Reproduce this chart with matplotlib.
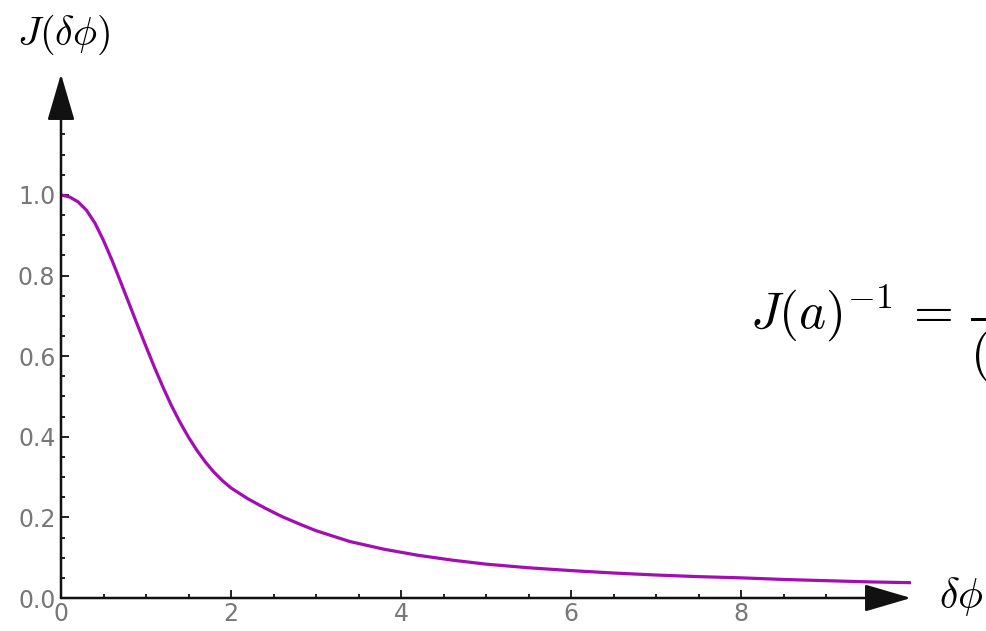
import numpy as np
import matplotlib
matplotlib.use("Agg")
import matplotlib.pyplot as plt
from matplotlib.ticker import FixedLocator

plt.rcParams['mathtext.fontset'] = 'cm'

# valores
dphi = [0.0, 0.1, 0.2, 0.3, 0.4, 0.5, 0.6, 0.7, 0.8, 0.9, 1.0, 1.1, 1.2, 1.3, 1.4,
        1.5, 1.6, 1.7, 1.8, 1.9, 2.0, 2.2, 2.4, 2.6, 2.8, 3.0, 3.4, 3.8, 4.2, 4.6,
        5.0, 5.5, 6.0, 6.5, 7.0, 7.5, 8.0, 8.5, 9.0, 9.5, 10.0]
J_val = [1.000, 0.995, 0.983, 0.962, 0.930, 0.887, 0.838, 0.785, 0.731, 0.677, 0.624,
         0.572, 0.523, 0.477, 0.436, 0.399, 0.366, 0.337, 0.312, 0.291, 0.273, 0.246,
         0.223, 0.202, 0.184, 0.167, 0.140, 0.121, 0.106, 0.094, 0.084, 0.075, 0.068,
         0.062, 0.057, 0.053, 0.050, 0.046, 0.043, 0.040, 0.038]
x_ticks = [0, 2, 4, 6, 8]
y_ticks = [0.0, 0.2, 0.4, 0.6, 0.8, 1.0]

W, H = 987, 631
fig = plt.figure(figsize=(W / 100, H / 100), dpi=100)
ax = fig.add_axes([61 / W, 33 / H, 850 / W, (598 - 74) / H])
ax.set_xlim(0, 10)
ax.set_ylim(0, 1.3)

ax.plot(dphi, J_val, color='#a30db3', lw=2.3, solid_capstyle='butt', zorder=3)

for s in ax.spines.values():
    s.set_visible(False)

# ejes con flechas
eje = dict(arrowstyle='-|>,head_length=2.9,head_width=0.85', color='#111111',
           lw=1.8, mutation_scale=10, shrinkA=0, shrinkB=0)
ax.annotate('', xy=(10, 0), xytext=(0, 0), arrowprops=eje, annotation_clip=False)
ax.annotate('', xy=(0, 1.3), xytext=(0, 0), arrowprops=eje, annotation_clip=False)

ax.xaxis.set_major_locator(FixedLocator(x_ticks))
ax.xaxis.set_minor_locator(FixedLocator([v for v in np.arange(0.5, 9.01, 0.5) if v % 2 != 0]))
ax.yaxis.set_major_locator(FixedLocator(y_ticks))
ax.yaxis.set_minor_locator(FixedLocator([v for v in np.arange(0.05, 1.16, 0.05)
                                         if round(v * 100) % 20 != 0]))
ax.set_xticklabels([str(v) for v in x_ticks])
ax.set_yticklabels([f"{v:.1f}" for v in y_ticks])
ax.tick_params(which='both', direction='in', color='#111111', width=1.3,
               labelcolor='#777777', labelsize=17)
ax.tick_params(which='major', length=6, pad=4)
ax.tick_params(which='minor', length=3)
ax.tick_params(axis='x', pad=3)

fig.text(64 / W, 1 - 35 / H, r'$J(\delta\phi)$', fontsize=29, ha='center', va='center')
fig.text(961 / W, 1 - 596 / H, r'$\delta\phi$', fontsize=30, ha='center', va='center')
fig.text(750 / W, 1 - 328 / H, r'$J(a)^{-1}\,=\,\dfrac{1}{(1+a^2)}$', fontsize=37,
         ha='left', va='baseline')

fig.savefig('out.png', dpi=100)
